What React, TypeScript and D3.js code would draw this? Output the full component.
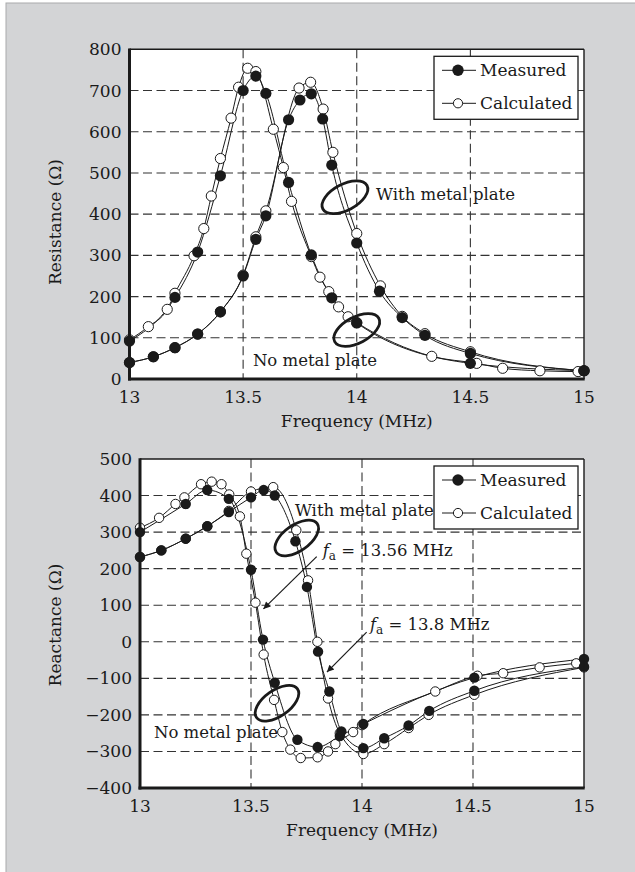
import React from 'react';
import * as d3 from 'd3';

type Pt = [number, number];

// tick values
const freqTicks = [13, 13.5, 14, 14.5, 15];
const resTicks = [0, 100, 200, 300, 400, 500, 600, 700, 800];
const reacTicks = [-400, -300, -200, -100, 0, 100, 200, 300, 400, 500];

// resistance (ohm) vs frequency (MHz)
const resMeasNoPlate: Pt[] = [
  [13.0, 92], [13.2, 198], [13.3, 308], [13.4, 493], [13.5, 700], [13.556, 735],
  [13.6, 693], [13.7, 477], [13.8, 301], [13.89, 197], [14.0, 136], [14.5, 38], [15.0, 20],
];
const resCalcNoPlate: Pt[] = [
  [13.0, 95], [13.083, 127], [13.166, 169], [13.2, 208], [13.284, 299], [13.327, 365],
  [13.36, 444], [13.4, 535], [13.447, 633], [13.48, 708], [13.52, 754], [13.556, 746],
  [13.633, 606], [13.677, 513], [13.713, 431], [13.8, 297], [13.838, 247], [13.877, 212],
  [13.92, 175], [13.962, 151], [14.0, 137], [14.33, 55], [14.528, 38], [14.642, 26],
  [14.806, 20], [14.974, 18],
];
const resMeasPlate: Pt[] = [
  [13.0, 40], [13.105, 54], [13.2, 76], [13.3, 109], [13.4, 163], [13.5, 250], [13.556, 339],
  [13.6, 396], [13.7, 629], [13.75, 677], [13.8, 692], [13.85, 631], [13.89, 519], [14.0, 330],
  [14.1, 213], [14.2, 149], [14.3, 106], [14.5, 62], [15.0, 20],
];
const resCalcPlate: Pt[] = [
  [13.0, 40], [13.105, 54], [13.2, 76], [13.3, 109], [13.4, 163], [13.5, 252], [13.556, 345],
  [13.6, 408], [13.746, 706], [13.797, 720], [13.852, 655], [13.895, 550], [14.0, 353],
  [14.104, 226], [14.2, 152], [14.3, 110], [14.5, 66], [15.0, 20],
];

// reactance (ohm) vs frequency (MHz)
const reacMeasNoPlate: Pt[] = [
  [13.0, 300], [13.206, 377], [13.303, 415], [13.4, 391], [13.5, 197], [13.554, 6],
  [13.607, -112], [13.709, -268], [13.8, -288], [13.9, -258], [14.006, -225], [14.506, -98],
  [15.0, -47],
];
const reacCalcNoPlate: Pt[] = [
  [13.0, 312], [13.086, 339], [13.16, 377], [13.2, 395], [13.275, 431], [13.323, 438],
  [13.367, 431], [13.402, 403], [13.45, 343], [13.479, 241], [13.52, 107], [13.557, -35],
  [13.604, -159], [13.641, -247], [13.677, -295], [13.724, -318], [13.8, -316], [13.847, -300],
  [13.88, -280], [13.96, -247], [14.0, -228], [14.33, -136], [14.52, -93], [14.636, -86],
  [14.8, -70], [14.965, -59],
];
const reacMeasPlate: Pt[] = [
  [13.0, 232], [13.096, 250], [13.206, 282], [13.303, 316], [13.4, 355], [13.5, 395],
  [13.557, 415], [13.607, 400], [13.7, 275], [13.752, 150], [13.802, -27], [13.853, -136],
  [13.907, -245], [14.006, -291], [14.1, -264], [14.21, -229], [14.303, -189], [14.506, -134],
  [15.0, -68],
];
const reacCalcPlate: Pt[] = [
  [13.0, 232], [13.096, 250], [13.206, 282], [13.303, 316], [13.4, 358], [13.5, 411],
  [13.6, 423], [13.704, 305], [13.757, 168], [13.799, 0], [13.847, -155], [13.9, -250],
  [14.006, -307], [14.1, -280], [14.21, -236], [14.3, -200], [14.506, -145], [15.0, -70],
];

const FONT = '"DejaVu Serif", serif';
const INK = '#1a1a1a';

type Note = { text?: string; fa?: string; at: Pt };
type Ring = { at: Pt; rot: number };
type Arrow = { from: Pt; to: Pt };

type PanelProps = {
  left: number; right: number; top: number; bottom: number;
  yDomain: [number, number]; yTicks: number[]; yTitle: string; yTitleY: number;
  dot: number;
  series: { meas: Pt[]; calc: Pt[] }[];
  notes: Note[]; rings: Ring[]; arrows: Arrow[];
};

function Panel(p: PanelProps) {
  const x = d3.scaleLinear().domain([13, 15]).range([p.left, p.right]);
  const y = d3.scaleLinear().domain(p.yDomain).range([p.bottom, p.top]);
  const line = d3.line<Pt>().x(d => x(d[0])).y(d => y(d[1])).curve(d3.curveMonotoneX);
  const fmt = d3.format('d');
  const lx = p.right - 150;
  const ly = p.top + 7;

  return (
    <g fontFamily={FONT} fill={INK}>
      <rect x={p.left} y={p.top} width={p.right - p.left} height={p.bottom - p.top} fill="#fff" />
      {/* dashed grid */}
      {p.yTicks.slice(1, -1).map(t => (
        <line key={'h' + t} x1={p.left} x2={p.right} y1={y(t)} y2={y(t)}
          stroke="#333" strokeWidth={1.1} strokeDasharray="9,4.5" />
      ))}
      {freqTicks.slice(1, -1).map(t => (
        <line key={'v' + t} x1={x(t)} x2={x(t)} y1={p.top} y2={p.bottom}
          stroke="#333" strokeWidth={1.1} strokeDasharray="9,4.5" />
      ))}
      {/* curves */}
      {p.series.map((s, i) => (
        <g key={'l' + i} fill="none" stroke={INK} strokeWidth={1}>
          <path d={line(s.calc) || ''} />
          <path d={line(s.meas) || ''} />
        </g>
      ))}
      {p.series.map((s, i) => (
        <g key={'o' + i}>
          {s.calc.map((d, j) => (
            <circle key={j} cx={x(d[0])} cy={y(d[1])} r={p.dot - 0.5} fill="#fff" stroke={INK} strokeWidth={1} />
          ))}
        </g>
      ))}
      {p.series.map((s, i) => (
        <g key={'f' + i}>
          {s.meas.map((d, j) => (
            <circle key={j} cx={x(d[0])} cy={y(d[1])} r={p.dot} fill={INK} />
          ))}
        </g>
      ))}
      {/* annotations */}
      {p.rings.map((r, i) => (
        <ellipse key={'r' + i} cx={0} cy={0} rx={25} ry={13} fill="none" stroke={INK} strokeWidth={2.8}
          transform={`translate(${x(r.at[0])},${y(r.at[1])}) rotate(${r.rot})`} />
      ))}
      {p.arrows.map((a, i) => (
        <line key={'a' + i} x1={x(a.from[0])} y1={y(a.from[1])} x2={x(a.to[0])} y2={y(a.to[1])}
          stroke={INK} strokeWidth={1.2} markerEnd="url(#arrowHead)" />
      ))}
      {p.notes.map((n, i) => (
        <text key={'n' + i} x={x(n.at[0])} y={y(n.at[1])} fontSize={16.5}>
          {n.fa ? (
            <>
              <tspan fontStyle="italic">f</tspan>
              <tspan fontSize={12} dy={4}>a</tspan>
              <tspan dy={-4}>{' = ' + n.fa}</tspan>
            </>
          ) : n.text}
        </text>
      ))}
      {/* frame */}
      <line x1={p.left} x2={p.right} y1={p.top} y2={p.top} stroke={INK} strokeWidth={1.4} />
      <line x1={p.right} x2={p.right} y1={p.top} y2={p.bottom} stroke={INK} strokeWidth={1.4} />
      <line x1={p.left} x2={p.left} y1={p.top - 0.7} y2={p.bottom + 1.5} stroke={INK} strokeWidth={3} />
      <line x1={p.left - 1.5} x2={p.right + 0.7} y1={p.bottom} y2={p.bottom} stroke={INK} strokeWidth={3} />
      {/* tick labels */}
      {p.yTicks.map(t => (
        <text key={'yt' + t} x={p.left - 8} y={y(t)} fontSize={17} textAnchor="end" dominantBaseline="central">
          {fmt(t)}
        </text>
      ))}
      {freqTicks.map(t => (
        <text key={'xt' + t} x={x(t)} y={p.bottom + 24} fontSize={17} textAnchor="middle">{String(t)}</text>
      ))}
      <text x={(p.left + p.right) / 2} y={p.bottom + 48} fontSize={17} textAnchor="middle">Frequency (MHz)</text>
      <text transform={`translate(55,${p.yTitleY}) rotate(-90)`} fontSize={17} textAnchor="middle"
        dominantBaseline="central">{p.yTitle}</text>
      {/* legend */}
      <g>
        <rect x={lx} y={ly} width={144} height={63} fill="#fff" stroke={INK} strokeWidth={1.3} />
        <line x1={lx + 8} x2={lx + 42} y1={ly + 14} y2={ly + 14} stroke={INK} strokeWidth={1} />
        <circle cx={lx + 24} cy={ly + 14} r={5.7} fill={INK} />
        <text x={lx + 46} y={ly + 14} fontSize={17} dominantBaseline="central">Measured</text>
        <line x1={lx + 8} x2={lx + 42} y1={ly + 47} y2={ly + 47} stroke={INK} strokeWidth={1} />
        <circle cx={lx + 24} cy={ly + 47} r={4.6} fill="#fff" stroke={INK} strokeWidth={1} />
        <text x={lx + 46} y={ly + 47} fontSize={17} dominantBaseline="central">Calculated</text>
      </g>
    </g>
  );
}

export default function App() {
  return (
    <svg width={635} height={872} style={{ position: 'absolute', left: 0, top: 0 }}>
      <defs>
        <marker id="arrowHead" viewBox="0 0 10 10" refX={10} refY={5} markerWidth={12} markerHeight={7}
          markerUnits="userSpaceOnUse" orient="auto">
          <path d="M0,0 L10,5 L0,10 z" fill={INK} />
        </marker>
      </defs>
      <rect x={0} y={0} width={635} height={872} fill="#fff" />
      <rect x={6} y={3} width={640} height={880} fill="#d3d4d6" stroke="#a9aaac" strokeWidth={1} />
      <Panel
        left={129.5} right={584} top={49.3} bottom={379} dot={5.6}
        yDomain={[0, 800]} yTicks={resTicks} yTitle="Resistance (Ω)" yTitleY={222}
        series={[{ meas: resMeasNoPlate, calc: resCalcNoPlate }, { meas: resMeasPlate, calc: resCalcPlate }]}
        rings={[{ at: [13.948, 441], rot: -28 }, { at: [14.0, 119], rot: -28 }]}
        notes={[{ text: 'With metal plate', at: [14.085, 434] }, { text: 'No metal plate', at: [13.543, 31.5] }]}
        arrows={[]}
      />
      <Panel
        left={140} right={584} top={459} bottom={788} dot={5.2}
        yDomain={[-400, 500]} yTicks={reacTicks} yTitle="Reactance (Ω)" yTitleY={625}
        series={[{ meas: reacMeasNoPlate, calc: reacCalcNoPlate }, { meas: reacMeasPlate, calc: reacCalcPlate }]}
        rings={[{ at: [13.706, 284], rot: -35 }, { at: [13.617, -168], rot: -35 }]}
        notes={[
          { text: 'With metal plate', at: [13.698, 345] },
          { fa: '13.56 MHz', at: [13.823, 236] },
          { fa: '13.8 MHz', at: [14.036, 31] },
          { text: 'No metal plate', at: [13.063, -264] },
        ]}
        arrows={[
          { from: [13.796, 233], to: [13.556, 90] },
          { from: [14.021, 26.5], to: [13.842, -83] },
        ]}
      />
    </svg>
  );
}
